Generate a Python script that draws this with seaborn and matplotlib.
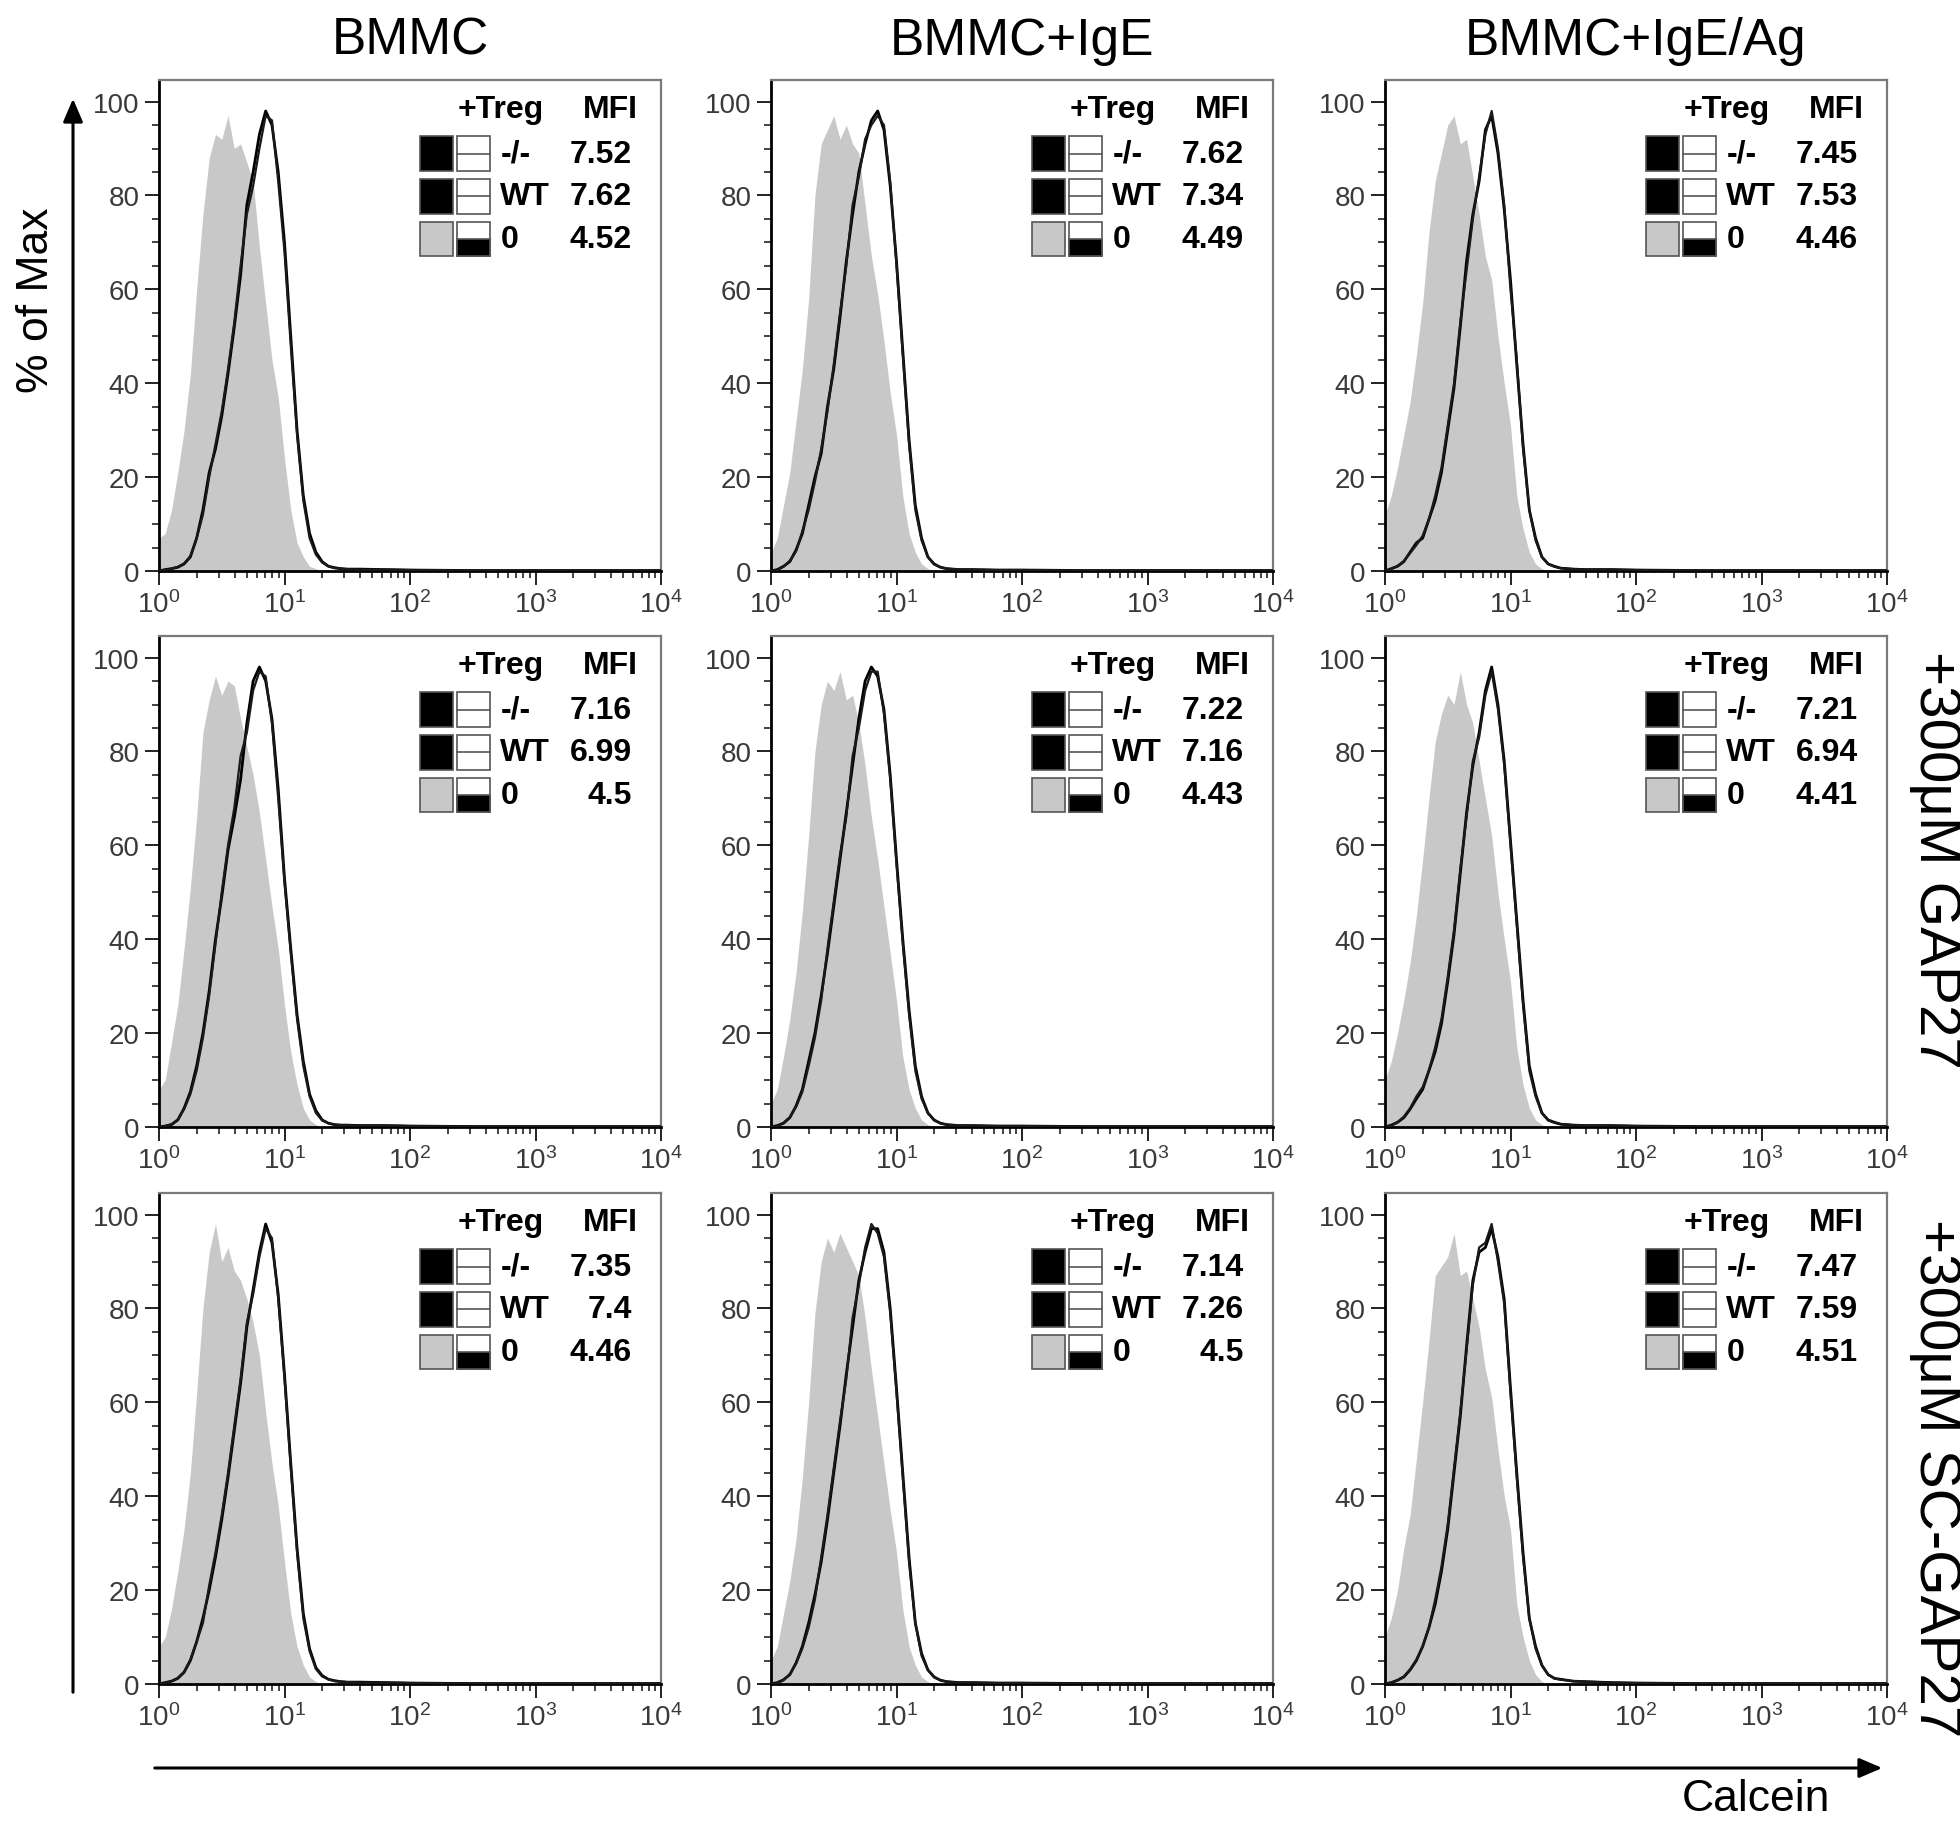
import numpy as np
import pandas as pd
import matplotlib
matplotlib.use("Agg")
import matplotlib.pyplot as plt
import seaborn as sns
from matplotlib.patches import Rectangle, FancyArrowPatch
from matplotlib.ticker import FixedLocator, MultipleLocator, NullFormatter

sns.set_theme(style="white")
plt.rcParams["font.family"] = ["Liberation Sans", "DejaVu Sans"]
plt.rcParams["mathtext.fontset"] = "custom"
plt.rcParams["mathtext.rm"] = "Liberation Sans"
plt.rcParams["mathtext.it"] = "Liberation Sans:italic"
plt.rcParams["mathtext.bf"] = "Liberation Sans:bold"

# ---------------- data ----------------
column_titles = ["BMMC", "BMMC+IgE", "BMMC+IgE/Ag"]
row_titles = ["", "+300μM GAP27", "+300μM SC-GAP27"]
legend_labels = ["-/-", "WT", "0"]
x_tick_values = [1, 10, 100, 1000, 10000]
x_tick_labels = [r"$\mathregular{10^{0}}$", r"$\mathregular{10^{1}}$", r"$\mathregular{10^{2}}$",
                 r"$\mathregular{10^{3}}$", r"$\mathregular{10^{4}}$"]
y_tick_values = [0, 20, 40, 60, 80, 100]

# histogram bin positions (log10 of Calcein intensity)
bin_log10 = [0.00, 0.05, 0.10, 0.15, 0.20, 0.25, 0.30, 0.35, 0.40, 0.45,
             0.50, 0.55, 0.60, 0.65, 0.70, 0.75, 0.80, 0.85, 0.90, 0.95,
             1.00, 1.05, 1.10, 1.15, 1.20, 1.25, 1.30, 1.35, 1.40, 1.45, 1.50,
             1.60, 1.80, 2.00, 2.50, 3.00, 3.50, 4.00]

# % of max per bin: row 1 (BMMC / +IgE / +IgE/Ag)
zero_r1c1 = [7, 8, 13, 21, 30, 42, 60, 76, 88, 93, 92, 97, 90, 91, 87, 83, 69, 57, 45, 37,
             24, 13, 6, 3, 1, 0.5, 0, 0, 0, 0, 0, 0, 0, 0, 0, 0, 0, 0]
ko_r1c1 = [0, 0.3, 0.5, 0.8, 1.5, 3, 7, 13, 21, 26, 33, 42, 52, 63, 78, 85, 93, 98, 95, 85,
           70, 50, 30, 16, 8, 4, 2, 1, 0.7, 0.5, 0.4, 0.4, 0.3, 0.2, 0.1, 0.1, 0.1, 0.1]
wt_r1c1 = [0, 0.2, 0.5, 0.9, 1.6, 3.2, 7, 12, 20, 27, 34, 43, 53, 65, 76, 82, 90, 97, 96, 83,
           68, 48, 29, 15, 7, 3.5, 1.8, 1, 0.6, 0.5, 0.4, 0.3, 0.3, 0.2, 0.1, 0.1, 0.1, 0.1]

zero_r1c2 = [4, 7, 14, 21, 32, 43, 58, 80, 91, 94, 97, 92, 95, 91, 89, 78, 67, 59, 49, 38,
             29, 16, 8, 4, 1.5, 0.5, 0, 0, 0, 0, 0, 0, 0, 0, 0, 0, 0, 0]
ko_r1c2 = [0, 0.3, 1, 2, 4.5, 8, 14, 20, 25, 35, 43, 54, 66, 76, 85, 91, 96, 98, 94, 82,
           66, 47, 28, 14, 7, 3, 1.5, 0.8, 0.5, 0.4, 0.3, 0.3, 0.2, 0.2, 0.1, 0.1, 0.1, 0.1]
wt_r1c2 = [0, 0.2, 0.9, 2.2, 4.2, 8.5, 13, 19, 26, 34, 44, 55, 65, 78, 84, 92, 95, 97, 95, 83,
           65, 46, 27, 13, 6.5, 3, 1.4, 0.8, 0.5, 0.4, 0.3, 0.3, 0.2, 0.2, 0.1, 0.1, 0.1, 0.1]

zero_r1c3 = [12, 16, 22, 29, 36, 46, 57, 72, 83, 89, 95, 97, 91, 92, 84, 76, 67, 62, 50, 40,
             31, 16, 9, 4, 1.5, 0.5, 0, 0, 0, 0, 0, 0, 0, 0, 0, 0, 0, 0]
ko_r1c3 = [0, 0.5, 1, 2, 4, 6, 7, 11, 15, 21, 30, 39, 52, 66, 76, 83, 94, 97, 89, 77,
           62, 44, 27, 13, 7, 3, 1.5, 1, 0.6, 0.5, 0.4, 0.3, 0.3, 0.2, 0.1, 0.1, 0.1, 0.1]
wt_r1c3 = [0, 0.4, 1.1, 2.1, 3.8, 5.5, 7.5, 11, 16, 22, 31, 40, 53, 64, 75, 84, 93, 98, 90, 78,
           60, 45, 26, 13, 6.5, 3, 1.5, 0.9, 0.6, 0.5, 0.4, 0.3, 0.3, 0.2, 0.1, 0.1, 0.1, 0.1]

# row 2 (+300 uM GAP27)
zero_r2c1 = [8, 10, 18, 26, 38, 51, 66, 84, 91, 96, 92, 95, 94, 87, 81, 75, 67, 57, 47, 38,
             26, 16, 9, 4, 1.5, 0.5, 0, 0, 0, 0, 0, 0, 0, 0, 0, 0, 0, 0]
ko_r2c1 = [0, 0.2, 0.5, 1.5, 4, 7.5, 13, 20, 29, 40, 49, 59, 66, 74, 86, 95, 98, 95, 87, 72,
           53, 38, 24, 14, 7, 3.5, 1.5, 0.8, 0.5, 0.4, 0.4, 0.3, 0.3, 0.2, 0.1, 0.1, 0.1, 0.1]
wt_r2c1 = [0, 0.2, 0.6, 1.6, 3.8, 7, 12, 19, 28, 39, 50, 60, 68, 79, 84, 93, 97, 96, 86, 70,
           52, 37, 23, 13, 6.5, 3, 1.4, 0.8, 0.5, 0.4, 0.4, 0.3, 0.3, 0.2, 0.1, 0.1, 0.1, 0.1]

zero_r2c2 = [5, 8, 15, 23, 33, 46, 62, 80, 90, 95, 93, 97, 91, 92, 86, 77, 66, 57, 47, 37,
             27, 15, 8, 4, 1.5, 0.5, 0, 0, 0, 0, 0, 0, 0, 0, 0, 0, 0, 0]
ko_r2c2 = [0, 0.3, 0.8, 2, 4.5, 8, 14, 20, 28, 37, 47, 57, 67, 77, 87, 95, 98, 96, 89, 75,
           57, 40, 25, 13, 6.5, 3, 1.5, 0.8, 0.5, 0.4, 0.3, 0.3, 0.2, 0.2, 0.1, 0.1, 0.1, 0.1]
wt_r2c2 = [0, 0.2, 0.9, 2.1, 4.3, 7.5, 13, 19, 27, 38, 48, 58, 66, 79, 85, 93, 97, 97, 88, 74,
           56, 39, 24, 12, 6, 3, 1.4, 0.8, 0.5, 0.4, 0.3, 0.3, 0.2, 0.2, 0.1, 0.1, 0.1, 0.1]

zero_r2c3 = [10, 14, 20, 27, 35, 45, 57, 70, 82, 88, 92, 90, 97, 90, 86, 78, 70, 62, 50, 40,
             31, 17, 9, 4, 1.5, 0.5, 0, 0, 0, 0, 0, 0, 0, 0, 0, 0, 0, 0]
ko_r2c3 = [0, 0.4, 1, 2, 3.8, 6, 8, 12, 16, 22, 31, 41, 54, 67, 77, 84, 93, 98, 90, 78,
           61, 44, 27, 13, 7, 3, 1.5, 1, 0.6, 0.5, 0.4, 0.3, 0.3, 0.2, 0.1, 0.1, 0.1, 0.1]
wt_r2c3 = [0, 0.3, 1, 2.2, 4, 6.5, 8.5, 12, 17, 23, 32, 42, 55, 66, 78, 83, 92, 97, 89, 77,
           60, 43, 26, 12, 6.5, 3, 1.4, 0.9, 0.6, 0.5, 0.4, 0.3, 0.3, 0.2, 0.1, 0.1, 0.1, 0.1]

# row 3 (+300 uM SC-GAP27)
zero_r3c1 = [8, 10, 16, 24, 33, 45, 62, 80, 92, 98, 90, 93, 88, 86, 82, 77, 70, 58, 47, 38,
             26, 15, 8, 4, 1.5, 0.5, 0, 0, 0, 0, 0, 0, 0, 0, 0, 0, 0, 0]
ko_r3c1 = [0, 0.3, 0.6, 1.2, 2.5, 5, 9, 14, 20, 27, 35, 44, 54, 64, 76, 84, 92, 98, 94, 83,
           66, 47, 29, 15, 7.5, 3.5, 1.8, 1, 0.7, 0.5, 0.4, 0.4, 0.3, 0.2, 0.1, 0.1, 0.1, 0.1]
wt_r3c1 = [0, 0.2, 0.6, 1.3, 2.6, 5.2, 9, 13, 21, 28, 36, 45, 55, 65, 77, 83, 91, 97, 95, 82,
           65, 46, 28, 14, 7, 3.2, 1.6, 1, 0.6, 0.5, 0.4, 0.3, 0.3, 0.2, 0.1, 0.1, 0.1, 0.1]

zero_r3c2 = [5, 8, 15, 22, 31, 44, 60, 79, 90, 95, 92, 96, 93, 90, 87, 78, 67, 57, 47, 37,
             28, 16, 8, 4, 1.5, 0.5, 0, 0, 0, 0, 0, 0, 0, 0, 0, 0, 0, 0]
ko_r3c2 = [0, 0.3, 0.9, 2, 4.5, 8, 13, 19, 26, 35, 45, 55, 66, 76, 86, 92, 97, 97, 92, 80,
           63, 45, 27, 13, 6.5, 3, 1.5, 0.8, 0.5, 0.4, 0.3, 0.3, 0.2, 0.2, 0.1, 0.1, 0.1, 0.1]
wt_r3c2 = [0, 0.2, 0.8, 2.1, 4.4, 7.6, 12, 18, 27, 36, 46, 56, 65, 78, 85, 93, 98, 96, 91, 79,
           62, 44, 26, 13, 6, 3, 1.4, 0.8, 0.5, 0.4, 0.3, 0.3, 0.2, 0.2, 0.1, 0.1, 0.1, 0.1]

zero_r3c3 = [10, 14, 20, 29, 36, 48, 60, 73, 87, 89, 91, 96, 87, 88, 82, 76, 67, 61, 50, 40,
             33, 17, 10, 5, 2, 0.5, 0, 0, 0, 0, 0, 0, 0, 0, 0, 0, 0, 0]
ko_r3c3 = [0, 0.3, 0.8, 1.5, 3, 5, 8, 12, 17, 24, 33, 45, 57, 72, 86, 92, 93, 97, 91, 82,
           63, 45, 28, 14, 8, 4, 2, 1.2, 1, 0.8, 0.6, 0.5, 0.3, 0.2, 0.1, 0.1, 0.1, 0.1]
wt_r3c3 = [0, 0.3, 0.8, 1.6, 3.1, 5.2, 8, 12, 18, 25, 34, 46, 58, 71, 85, 93, 94, 98, 90, 81,
           62, 44, 27, 14, 7.5, 4, 2, 1.2, 0.9, 0.8, 0.6, 0.5, 0.3, 0.2, 0.1, 0.1, 0.1, 0.1]

# MFI values (-/-, WT, 0) per panel
mfi_r1 = [[7.52, 7.62, 4.52], [7.62, 7.34, 4.49], [7.45, 7.53, 4.46]]
mfi_r2 = [[7.16, 6.99, 4.5], [7.22, 7.16, 4.43], [7.21, 6.94, 4.41]]
mfi_r3 = [[7.35, 7.4, 4.46], [7.14, 7.26, 4.5], [7.47, 7.59, 4.51]]

zero_curves = [[zero_r1c1, zero_r1c2, zero_r1c3],
               [zero_r2c1, zero_r2c2, zero_r2c3],
               [zero_r3c1, zero_r3c2, zero_r3c3]]
ko_curves = [[ko_r1c1, ko_r1c2, ko_r1c3],
             [ko_r2c1, ko_r2c2, ko_r2c3],
             [ko_r3c1, ko_r3c2, ko_r3c3]]
wt_curves = [[wt_r1c1, wt_r1c2, wt_r1c3],
             [wt_r2c1, wt_r2c2, wt_r2c3],
             [wt_r3c1, wt_r3c2, wt_r3c3]]
mfi_all = [mfi_r1, mfi_r2, mfi_r3]

calcein = 10.0 ** np.array(bin_log10)

# ---------------- layout ----------------
W, H = 1960, 1824
fig = plt.figure(figsize=(W / 100, H / 100), dpi=100)
fig.patch.set_facecolor("white")

col_left = [159, 771, 1385]
col_width = 502
row_top = [81, 637, 1194]
row_height = 491

GRAY = "#c8c8c8"
TICK_COLOR = "#3a3a3a"

for r in range(3):
    for c in range(3):
        left = col_left[c] / W
        bottom = 1 - (row_top[r] + row_height) / H
        ax = fig.add_axes([left, bottom, col_width / W, row_height / H])
        ax.set_xscale("log")
        ax.set_facecolor("white")

        df = pd.DataFrame({"calcein": calcein,
                           "zero": zero_curves[r][c],
                           "ko": ko_curves[r][c],
                           "wt": wt_curves[r][c]})
        ax.fill_between(df["calcein"], 0, df["zero"], color=GRAY, lw=0, zorder=1)
        sns.lineplot(data=df, x="calcein", y="ko", color="black", lw=2.0, ax=ax,
                     legend=False, zorder=3)
        sns.lineplot(data=df, x="calcein", y="wt", color="#1a1a1a", lw=1.6, ax=ax,
                     legend=False, zorder=3)

        ax.set_xlim(1, 1e4)
        ax.set_ylim(0, 104.6)
        ax.set_xlabel("")
        ax.set_ylabel("")
        ax.grid(False)

        ax.xaxis.set_major_locator(FixedLocator(x_tick_values))
        ax.set_xticklabels(x_tick_labels)
        minor = [m * 10 ** e for e in range(4) for m in range(2, 10)]
        ax.xaxis.set_minor_locator(FixedLocator(minor))
        ax.xaxis.set_minor_formatter(NullFormatter())
        ax.yaxis.set_major_locator(FixedLocator(y_tick_values))
        ax.yaxis.set_minor_locator(MultipleLocator(5))
        ax.set_yticklabels([str(v) for v in y_tick_values])

        ax.tick_params(axis="both", which="major", direction="out", length=10, width=1.4,
                       color="#222222", labelsize=20, labelcolor=TICK_COLOR, pad=4,
                       bottom=True, left=True, top=False, right=False)
        ax.tick_params(axis="both", which="minor", direction="out", length=5, width=1.2,
                       color="#222222", bottom=True, left=True, top=False, right=False)

        for side in ["left", "bottom"]:
            ax.spines[side].set_color("black")
            ax.spines[side].set_linewidth(2)
        for side in ["top", "right"]:
            ax.spines[side].set_color("#7a7a7a")
            ax.spines[side].set_linewidth(1.6)
            ax.spines[side].set_visible(True)

        # legend block
        fs = 23
        ax.text(0.68, 0.941, "+Treg", transform=ax.transAxes, ha="center", va="center",
                fontsize=fs, fontweight="bold", color="black")
        ax.text(0.90, 0.941, "MFI", transform=ax.transAxes, ha="center", va="center",
                fontsize=fs, fontweight="bold", color="black")
        row_y = [0.850, 0.763, 0.676]
        sq_h = 0.070
        sq_w = 0.066
        for i in range(3):
            yc = row_y[i]
            face1 = "black" if i < 2 else GRAY
            ax.add_patch(Rectangle((0.519, yc - sq_h / 2), sq_w, sq_h, transform=ax.transAxes,
                                   facecolor=face1, edgecolor="#555555", lw=1.2, zorder=5,
                                   clip_on=False))
            ax.add_patch(Rectangle((0.594, yc - sq_h / 2), sq_w, sq_h, transform=ax.transAxes,
                                   facecolor="white", edgecolor="#555555", lw=1.2, zorder=5,
                                   clip_on=False))
            if i < 2:
                ax.plot([0.594, 0.594 + sq_w], [yc, yc], transform=ax.transAxes,
                        color="#555555", lw=1.2, zorder=6, clip_on=False)
            else:
                ax.add_patch(Rectangle((0.594, yc - sq_h / 2), sq_w, sq_h / 2,
                                       transform=ax.transAxes, facecolor="black",
                                       edgecolor="#555555", lw=1.2, zorder=6, clip_on=False))
            ax.text(0.680, yc, legend_labels[i], transform=ax.transAxes, ha="left",
                    va="center", fontsize=fs, fontweight="bold", color="black")
            ax.text(0.942, yc, f"{mfi_all[r][c][i]:g}", transform=ax.transAxes, ha="right",
                    va="center", fontsize=fs, fontweight="bold", color="black")

# column titles
for c in range(3):
    cx = (col_left[c] + col_width / 2) / W
    fig.text(cx, 1 - 41 / H, column_titles[c], ha="center", va="center", fontsize=37,
             color="black")

# row titles on the right
row_label_y = [None, 860, 1478]
for r in (1, 2):
    fig.text(1935 / W, 1 - row_label_y[r] / H, row_titles[r], ha="center", va="center",
             rotation=270, fontsize=42, color="black")

# axis arrows and labels
fig.add_artist(FancyArrowPatch((73, H - 1696), (73, H - 97), transform=None,
                               arrowstyle="-|>,head_length=14,head_width=6", lw=2.2,
                               color="black", mutation_scale=1))
fig.add_artist(FancyArrowPatch((152, H - 1769), (1885, H - 1769), transform=None,
                               arrowstyle="-|>,head_length=14,head_width=6", lw=2.2,
                               color="black", mutation_scale=1))
fig.text(37 / W, 1 - 300 / H, "% of Max", rotation=90, ha="center", va="center",
         fontsize=32, color="black")
fig.text(1756 / W, 1 - 1800 / H, "Calcein", ha="center", va="center", fontsize=32,
         color="black")

fig.savefig("out.png", dpi=100, facecolor="white")
